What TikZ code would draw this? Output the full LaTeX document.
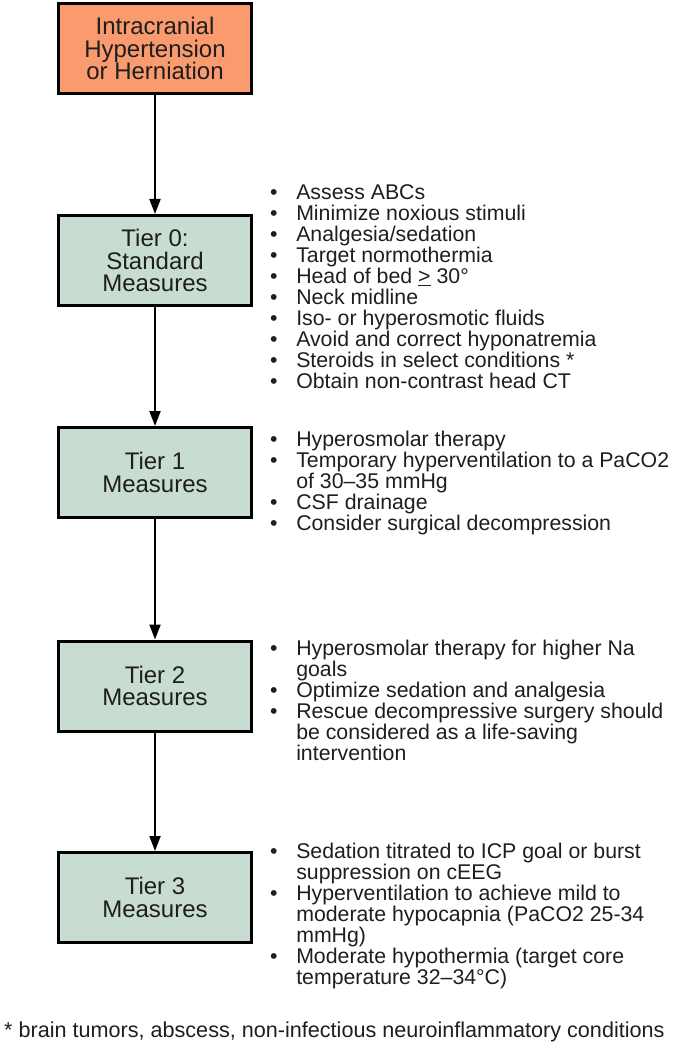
\documentclass[tikz,border=0pt]{standalone}
\usepackage{fontspec}
\setmainfont{Liberation Sans}
\usetikzlibrary{arrows.meta}
\definecolor{orangefill}{HTML}{F99B6F}
\definecolor{greenfill}{HTML}{C9DCD2}
\definecolor{txt}{HTML}{1E1E1E}
\begin{document}
\begin{tikzpicture}[x=1pt,y=-1pt,
  boxstyle/.style={draw=black, line width=3pt, minimum width=193pt, minimum height=90pt,
    inner sep=0pt, align=center, font=\fontsize{24}{22.6}\selectfont, text=txt},
  topbox/.style={boxstyle, fill=orangefill},
  tierbox/.style={boxstyle, fill=greenfill},
  listnode/.style={anchor=base west, inner sep=0pt, font=\fontsize{21.3}{18.7}\selectfont, text=txt},
  flow/.style={line width=2pt, -{Triangle[length=15pt,width=11pt]}}]
\useasboundingbox (0,0) rectangle (673,1048);
\node[topbox] (top) at (155,48.5) {Intracranial\\Hypertension\\or Herniation};
\node[tierbox] (t0) at (155,260.5) {Tier 0:\\Standard\\Measures};
\node[tierbox] (t1) at (155,472.5) {Tier 1\\Measures};
\node[tierbox] (t2) at (155,686) {Tier 2\\Measures};
\node[tierbox] (t3) at (155,897.5) {Tier 3\\Measures};
\draw[flow] (top.south) -- (t0.north);
\draw[flow] (t0.south) -- (t1.north);
\draw[flow] (t1.south) -- (t2.north);
\draw[flow] (t2.south) -- (t3.north);
\node[listnode] (l0) at (270,199.5) {\begin{tabular}[t]{@{}l@{\hspace{18.6pt}}l@{}}
\textbullet & Assess ABCs\\
\textbullet & Minimize noxious stimuli\\
\textbullet & Analgesia/sedation\\
\textbullet & Target normothermia\\
\textbullet & Head of bed \underline{>} 30°\\
\textbullet & Neck midline\\
\textbullet & Iso- or hyperosmotic fluids\\
\textbullet & Avoid and correct hyponatremia\\
\textbullet & Steroids in select conditions *\\
\textbullet & Obtain non-contrast head CT
\end{tabular}};
\node[listnode] (l1) at (270,446) {\begin{tabular}[t]{@{}l@{\hspace{18.6pt}}l@{}}
\textbullet & Hyperosmolar therapy\\
\textbullet & Temporary hyperventilation to a PaCO2\\
 & of 30–35 mmHg\\
\textbullet & CSF drainage\\
\textbullet & Consider surgical decompression
\end{tabular}};
\node[listnode] (l2) at (270,655) {\begin{tabular}[t]{@{}l@{\hspace{18.6pt}}l@{}}
\textbullet & Hyperosmolar therapy for higher Na\\
 & goals\\
\textbullet & Optimize sedation and analgesia\\
\textbullet & Rescue decompressive surgery should\\
 & be considered as a life-saving\\
 & intervention
\end{tabular}};
\node[listnode] (l3) at (270,858.5) {\begin{tabular}[t]{@{}l@{\hspace{18.6pt}}l@{}}
\textbullet & Sedation titrated to ICP goal or burst\\
 & suppression on cEEG\\
\textbullet & Hyperventilation to achieve mild to\\
 & moderate hypocapnia (PaCO2 25-34\\
 & mmHg)\\
\textbullet & Moderate hypothermia (target core\\
 & temperature 32–34°C)
\end{tabular}};
\node[anchor=base west, inner sep=0pt, font=\fontsize{21.6}{22}\selectfont, text=txt] (foot) at (4,1037) {* brain tumors, abscess, non-infectious neuroinflammatory conditions};
\end{tikzpicture}
\end{document}
